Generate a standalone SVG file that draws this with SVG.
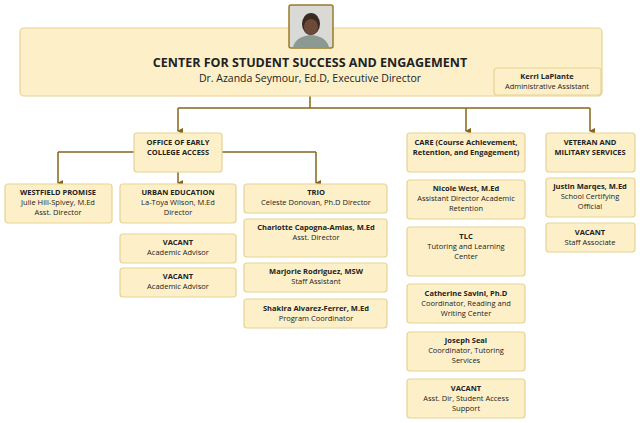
<svg xmlns="http://www.w3.org/2000/svg" width="640" height="423" viewBox="0 0 640 423">
<style>
.b{fill:#fdf0c9;stroke:#e6d394;stroke-width:1.2}
text{font-family:"Open Sans","Liberation Sans",sans-serif;fill:#222;text-anchor:middle;font-size:7.5px}
.h{font-weight:bold}
.c{stroke:#86651a;stroke-width:1.5;fill:none;marker-end:url(#a)}
.l{stroke:#86651a;stroke-width:1.5;fill:none}
</style>
<defs><marker id="a" markerWidth="6" markerHeight="6" refX="3" refY="5" orient="auto" markerUnits="userSpaceOnUse"><path d="M0,0 L6,0 L3,6 Z" fill="#86651a"/></marker></defs>
<rect width="640" height="423" fill="#fff"/>
<g id="connectors">
<path class="l" d="M310,96V108M178,108H590"/>
<path class="c" d="M178,108V131"/><path class="c" d="M466,108V131"/><path class="c" d="M590,108V131"/>
<path class="l" d="M134,152H58M222,152H316"/>
<path class="c" d="M58,152V183"/><path class="c" d="M178,172V183"/><path class="c" d="M316,152V183"/>
</g>
<g id="center"><rect class="b" x="20" y="28" width="582" height="68" rx="4"/>
<text x="310" y="67" style="font-size:12.5px" class="h">CENTER FOR STUDENT SUCCESS AND ENGAGEMENT</text>
<text x="310" y="82" style="font-size:10.5px">Dr. Azanda Seymour, Ed.D, Executive Director</text></g>
<g id="photo"><rect x="289" y="5" width="44" height="43" rx="2" fill="#d9d9d6" stroke="#9a7a2a" stroke-width="1.5"/>
<path d="M293,47 Q296,36 311,35 Q326,36 329,47 Z" fill="#8a9a93"/>
<ellipse cx="311" cy="24" rx="9" ry="11" fill="#3a2a22"/><ellipse cx="311" cy="27" rx="7" ry="8" fill="#6b4a38"/></g>
<g id="kerri"><rect class="b" x="494" y="68" width="107" height="27" rx="3"/><text x="547" y="79" class="h">Kerri LaPlante</text><text x="547" y="89">Administrative Assistant</text></g>
<g id="early"><rect class="b" x="134" y="133" width="88" height="39" rx="3"/><text x="178" y="145" class="h">OFFICE OF EARLY</text><text x="178" y="155" class="h">COLLEGE ACCESS</text></g>
<g id="care"><rect class="b" x="407" y="133" width="118" height="39" rx="3"/><text x="466" y="145" class="h">CARE (Course Achievement,</text><text x="466" y="155" class="h">Retention, and Engagement)</text></g>
<g id="veteran"><rect class="b" x="546" y="133" width="89" height="39" rx="3"/><text x="590" y="145" class="h">VETERAN AND</text><text x="590" y="155" class="h">MILITARY SERVICES</text></g>
<g id="westfield"><rect class="b" x="5" y="184" width="107" height="39" rx="3"/><text x="58" y="195" class="h">WESTFIELD PROMISE</text><text x="58" y="205">Julie Hill-Spivey, M.Ed</text><text x="58" y="215">Asst. Director</text></g>
<g id="urban"><rect class="b" x="120" y="184" width="116" height="39" rx="3"/><text x="178" y="195" class="h">URBAN EDUCATION</text><text x="178" y="205">La-Toya Wilson, M.Ed</text><text x="178" y="215">Director</text></g>
<g id="vacant1"><rect class="b" x="120" y="234" width="116" height="29" rx="3"/><text x="178" y="245" class="h">VACANT</text><text x="178" y="255">Academic Advisor</text></g>
<g id="vacant2"><rect class="b" x="120" y="268" width="116" height="29" rx="3"/><text x="178" y="279" class="h">VACANT</text><text x="178" y="289">Academic Advisor</text></g>
<g id="trio"><rect class="b" x="244" y="184" width="143" height="29" rx="3"/><text x="316" y="195" class="h">TRIO</text><text x="316" y="205">Celeste Donovan, Ph.D Director</text></g>
<g id="charlotte"><rect class="b" x="244" y="219" width="143" height="38" rx="3"/><text x="316" y="230" class="h">Charlotte Capogna-Amias, M.Ed</text><text x="316" y="240">Asst. Director</text></g>
<g id="marjorie"><rect class="b" x="244" y="263" width="143" height="29" rx="3"/><text x="316" y="274" class="h">Marjorie Rodriguez, MSW</text><text x="316" y="284">Staff Assistant</text></g>
<g id="shakira"><rect class="b" x="244" y="299" width="143" height="29" rx="3"/><text x="316" y="311" class="h">Shakira Alvarez-Ferrer, M.Ed</text><text x="316" y="321">Program Coordinator</text></g>
<g id="nicole"><rect class="b" x="407" y="180" width="118" height="39" rx="3"/><text x="466" y="191" class="h">Nicole West, M.Ed</text><text x="466" y="201">Assistant Director Academic</text><text x="466" y="211">Retention</text></g>
<g id="tlc"><rect class="b" x="407" y="227" width="118" height="49" rx="3"/><text x="466" y="239" class="h">TLC</text><text x="466" y="249">Tutoring and Learning</text><text x="466" y="259">Center</text></g>
<g id="catherine"><rect class="b" x="407" y="284" width="118" height="39" rx="3"/><text x="466" y="296" class="h">Catherine Savini, Ph.D</text><text x="466" y="306">Coordinator, Reading and</text><text x="466" y="316">Writing Center</text></g>
<g id="joseph"><rect class="b" x="407" y="332" width="118" height="39" rx="3"/><text x="466" y="343" class="h">Joseph Seal</text><text x="466" y="353">Coordinator, Tutoring</text><text x="466" y="363">Services</text></g>
<g id="vacant3"><rect class="b" x="407" y="379" width="118" height="39" rx="3"/><text x="466" y="391" class="h">VACANT</text><text x="466" y="401">Asst. Dir, Student Access</text><text x="466" y="411">Support</text></g>
<g id="justin"><rect class="b" x="546" y="178" width="89" height="39" rx="3"/><text x="590" y="189" class="h">Justin Marqes, M.Ed</text><text x="590" y="199">School Certifying</text><text x="590" y="209">Official</text></g>
<g id="vacant4"><rect class="b" x="546" y="223" width="89" height="29" rx="3"/><text x="590" y="235" class="h">VACANT</text><text x="590" y="245">Staff Associate</text></g>
</svg>
